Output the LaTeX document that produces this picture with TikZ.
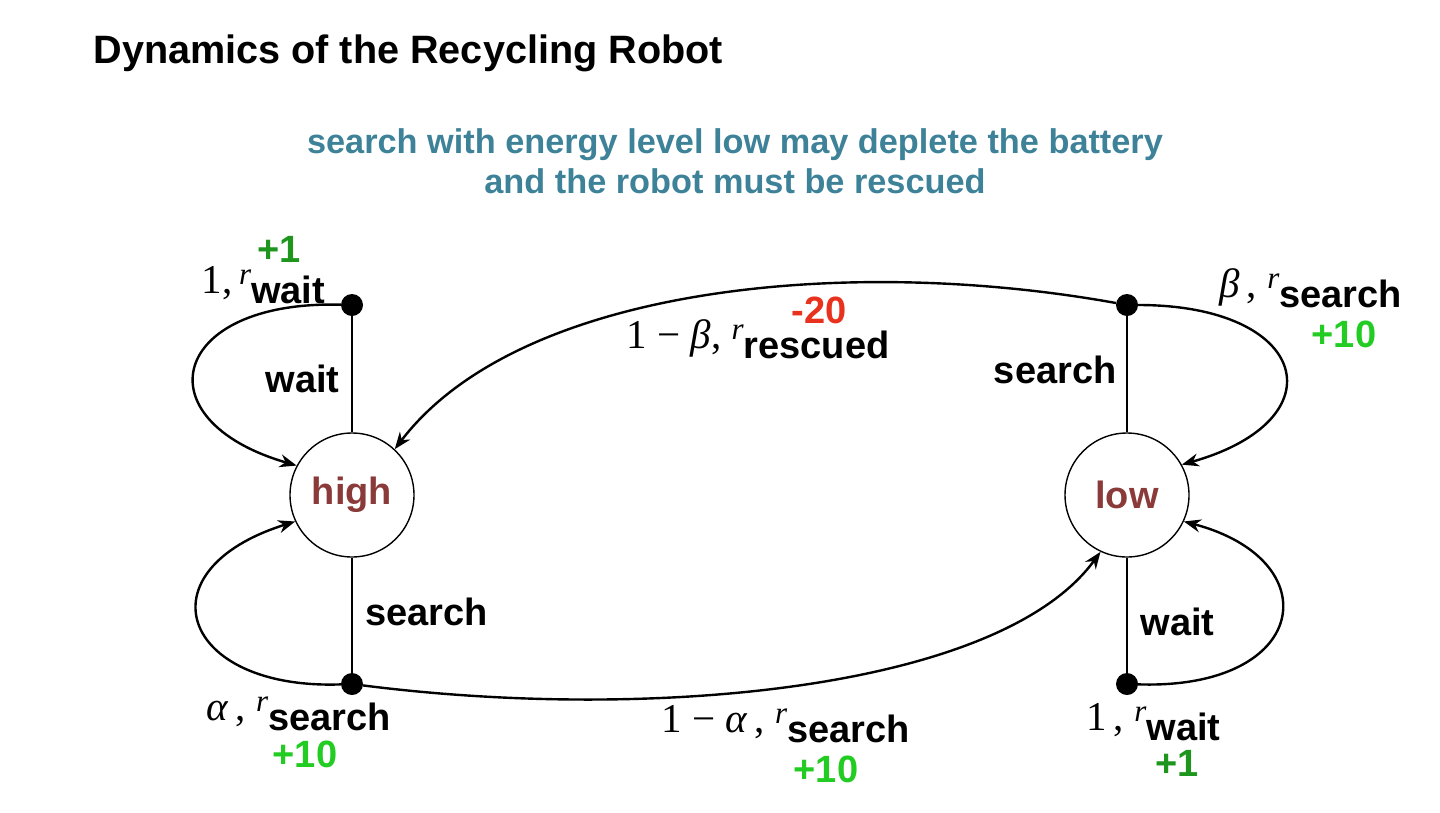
\documentclass[tikz,border=0pt]{standalone}
\usepackage{fontspec}
\setmainfont{Liberation Sans}
\newfontfamily\tms{Liberation Serif}
\usetikzlibrary{arrows.meta}
\definecolor{subteal}{HTML}{3D8298}
\definecolor{statered}{HTML}{8B3A3A}
\definecolor{penred}{HTML}{E8321E}
\definecolor{brightgreen}{HTML}{22CC22}
\definecolor{darkgreen}{HTML}{1E961E}
% probability, r_{reward}
\newcommand{\rlab}[2]{\raisebox{10pt}{\mdseries\fontsize{41}{41}\tms #1}\raisebox{19pt}{\mdseries\fontsize{31}{31}\tms\itshape r}#2}

\begin{document}
\begin{tikzpicture}[x=1pt,y=-1pt,font=\fontsize{38}{40}\selectfont\bfseries,
  state/.style={circle,draw,line width=1.4pt,minimum size=124pt,inner sep=0pt,text=statered},
  dot/.style={circle,fill,minimum size=22pt,inner sep=0pt},
  arr/.style={line width=2.4pt,-{Stealth[length=17pt,width=13pt]}},
  rew/.style={anchor=base}]
\useasboundingbox (0,0) rectangle (1440,812);
\node[anchor=base west,font=\fontsize{39.6}{40}\selectfont\bfseries] (title) at (90,63) {Dynamics of the Recycling Robot};
\node[anchor=base,text=subteal,font=\fontsize{34.3}{40}\selectfont\bfseries] (sub1) at (735,153) {search with energy level low may deplete the battery};
\node[anchor=base,text=subteal,font=\fontsize{34.3}{40}\selectfont\bfseries] (sub2) at (735,193) {and the robot must be rescued};

% states and action dots
\node[state] (high) at (352,495) {high};
\node[state] (low) at (1127,495) {low};
\node[dot] (hw) at (352,305) {};
\node[dot] (hs) at (352,684) {};
\node[dot] (ls) at (1127,305) {};
\node[dot] (lw) at (1127,684) {};
\draw[line width=1.6pt] (hw) -- (high);
\draw[line width=1.6pt] (hs) -- (high);
\draw[line width=1.6pt] (ls) -- (low);
\draw[line width=1.6pt] (lw) -- (low);
\node[anchor=base east] (awh) at (343,392) {wait};
\node[anchor=base west] (ash) at (362,625) {search};
\node[anchor=base east] (asl) at (1120,383) {search};
\node[anchor=base west] (awl) at (1137,635) {wait};

% transitions
\draw[arr] (hw) .. controls (170,300) and (140,420) .. (high.152);
\draw[arr] (hs) .. controls (180,690) and (140,570) .. (high.205);
\draw[arr] (ls) .. controls (1310,305) and (1340,420) .. (low.29);
\draw[arr] (lw) .. controls (1310,690) and (1330,560) .. (low.335);
\draw[arr] (ls) .. controls (850,255) and (520,285) .. (high.47);
\draw[arr] (hs) .. controls (650,722) and (1000,690) .. (low.245);

% probabilities and rewards
\node[anchor=base west] (phw) at (198,303) {\rlab{1,\,}{wait}};
\node[anchor=base west] (pres) at (623,358) {\rlab{1 − \textit{β}, }{rescued}};
\node[anchor=base west] (pls) at (1216,307) {\rlab{\textit{β}\,, }{search}};
\node[anchor=base west] (phs) at (203,730) {\rlab{\textit{α}\,, }{search}};
\node[anchor=base west] (pmid) at (658,742) {\rlab{1 − \textit{α}\,, }{search}};
\node[anchor=base west] (plw) at (1083,740) {\rlab{1\,, }{wait}};
\node[rew,text=darkgreen] (rhw) at (279,262) {+1};
\node[rew,text=penred] (rres) at (819,323) {-20};
\node[rew,text=brightgreen] (rls) at (1344,347) {+10};
\node[rew,text=brightgreen] (rhs) at (305,767) {+10};
\node[rew,text=brightgreen] (rmid) at (826,782) {+10};
\node[rew,text=darkgreen] (rlw) at (1177,776) {+1};
\end{tikzpicture}
\end{document}
